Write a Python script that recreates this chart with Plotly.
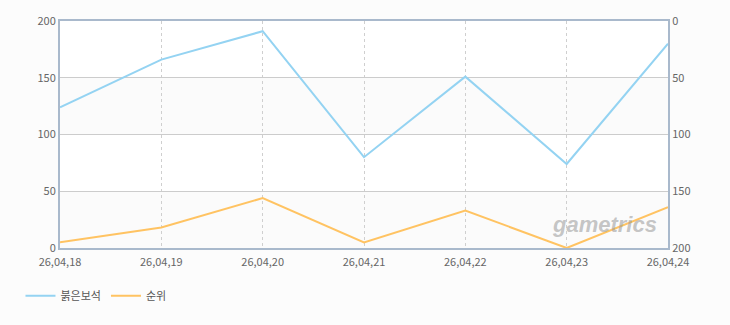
import plotly.graph_objects as go

dates = ["26,04,18", "26,04,19", "26,04,20", "26,04,21", "26,04,22", "26,04,23", "26,04,24"]
gem_values = [124, 166, 191, 80, 151, 74, 180]
rank_values = [195, 182, 156, 195, 167, 200, 164]
left_ticks = [0, 50, 100, 150, 200]
right_ticks = [0, 50, 100, 150, 200]
name_gem = "붉은보석"
name_rank = "순위"

font_family = "Noto Sans CJK KR, Noto Sans, sans-serif"
tick_color = "#666666"

fig = go.Figure()
fig.add_trace(go.Scatter(x=dates, y=gem_values, name=name_gem, mode="lines",
                         line=dict(color="#94d3f2", width=2), yaxis="y"))
fig.add_trace(go.Scatter(x=dates, y=rank_values, name=name_rank, mode="lines",
                         line=dict(color="#ffc362", width=2), yaxis="y2"))

# alternating bands
for lo, hi in [(0, 50), (100, 150)]:
    fig.add_shape(type="rect", xref="paper", yref="y", x0=0, x1=1, y0=lo, y1=hi,
                  fillcolor="#fbfbfb", line=dict(width=0), layer="below")

fig.add_annotation(text="<b><i>gametrics</i></b>", xref="paper", yref="paper",
                   x=0.895, y=0.104, xanchor="center", yanchor="middle", showarrow=False,
                   font=dict(family="Liberation Sans, Arial, sans-serif", size=22,
                             color="rgba(150,150,150,0.55)"))

fig.update_layout(
    width=730, height=325,
    margin=dict(l=60, r=62, t=17, b=77),
    paper_bgcolor="#fcfcfc",
    plot_bgcolor="#ffffff",
    font=dict(family=font_family, size=11, color=tick_color),
    showlegend=True,
    legend=dict(orientation="h", x=-0.065, y=-0.21, xanchor="left", yanchor="middle",
                font=dict(size=11, color="#555555"), bgcolor="rgba(0,0,0,0)",
                itemwidth=30),
    xaxis=dict(type="category", range=[0, 6], showgrid=True, gridcolor="#cfcfcf",
               griddash="3px,3px", gridwidth=1, showline=True, linecolor="#a9b9cc",
               linewidth=2, mirror=True, ticks="", zeroline=False, ticklabelstandoff=3,
               tickfont=dict(size=11, color=tick_color)),
    yaxis=dict(range=[0, 200], tickvals=left_ticks, showgrid=True, gridcolor="#cccccc",
               gridwidth=1, showline=True, linecolor="#a9b9cc", linewidth=2,
               mirror=True, ticks="", zeroline=False,
               tickfont=dict(size=11, color=tick_color)),
    yaxis2=dict(range=[200, 0], tickvals=right_ticks, overlaying="y", side="right",
                showgrid=False, showline=True, linecolor="#a9b9cc", linewidth=2,
                ticks="", zeroline=False, tickfont=dict(size=11, color=tick_color)),
)

fig.write_html("out.html")
